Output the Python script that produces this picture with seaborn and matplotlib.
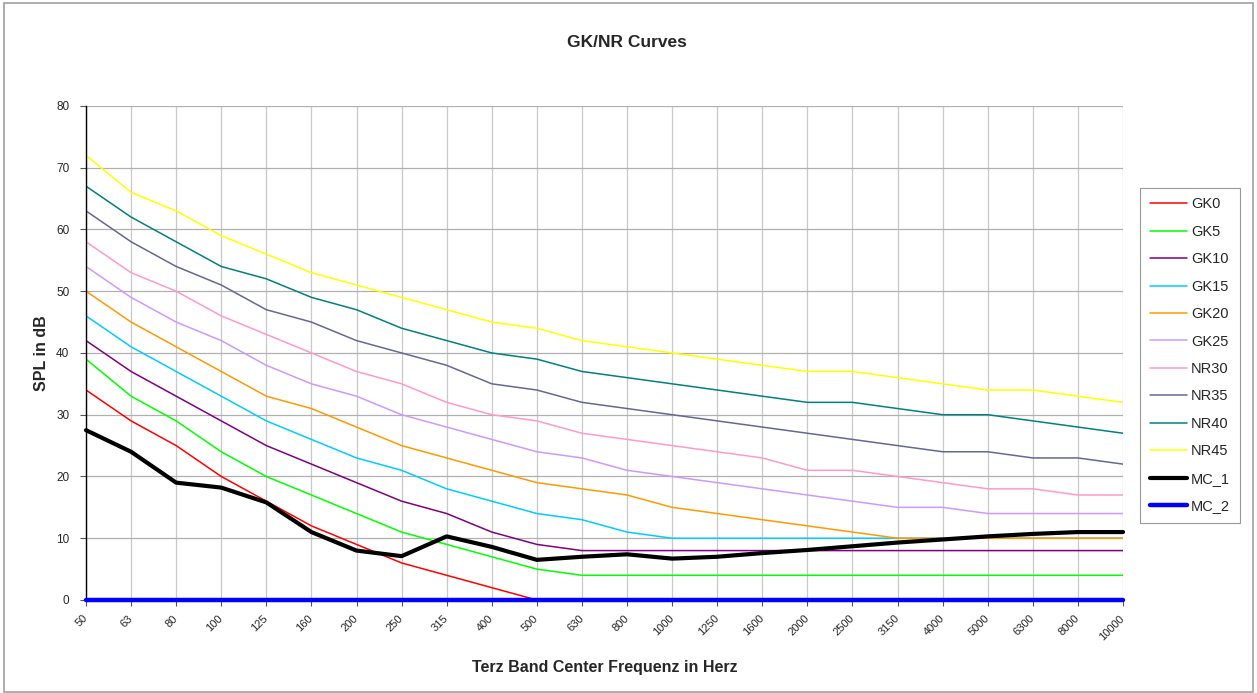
import numpy as np
import pandas as pd
import seaborn as sns
import matplotlib.pyplot as plt
from matplotlib.patches import Rectangle

freqs = ["50", "63", "80", "100", "125", "160", "200", "250", "315", "400",
         "500", "630", "800", "1000", "1250", "1600", "2000", "2500", "3150",
         "4000", "5000", "6300", "8000", "10000"]

nan = np.nan
gk0 = [34, 29, 25, 20, 16, 12, 9, 6, 4, 2, 0] + [nan] * 13
gk5 = [39, 33, 29, 24, 20, 17, 14, 11, 9, 7, 5, 4, 4, 4, 4, 4, 4, 4, 4, 4, 4, 4, 4, 4]
gk10 = [42, 37, 33, 29, 25, 22, 19, 16, 14, 11, 9, 8, 8, 8, 8, 8, 8, 8, 8, 8, 8, 8, 8, 8]
gk15 = [46, 41, 37, 33, 29, 26, 23, 21, 18, 16, 14, 13, 11, 10, 10, 10, 10, 10, 10, 10, 10, 10, 10, 10]
gk20 = [50, 45, 41, 37, 33, 31, 28, 25, 23, 21, 19, 18, 17, 15, 14, 13, 12, 11, 10, 10, 10, 10, 10, 10]
gk25 = [54, 49, 45, 42, 38, 35, 33, 30, 28, 26, 24, 23, 21, 20, 19, 18, 17, 16, 15, 15, 14, 14, 14, 14]
nr30 = [58, 53, 50, 46, 43, 40, 37, 35, 32, 30, 29, 27, 26, 25, 24, 23, 21, 21, 20, 19, 18, 18, 17, 17]
nr35 = [63, 58, 54, 51, 47, 45, 42, 40, 38, 35, 34, 32, 31, 30, 29, 28, 27, 26, 25, 24, 24, 23, 23, 22]
nr40 = [67, 62, 58, 54, 52, 49, 47, 44, 42, 40, 39, 37, 36, 35, 34, 33, 32, 32, 31, 30, 30, 29, 28, 27]
nr45 = [72, 66, 63, 59, 56, 53, 51, 49, 47, 45, 44, 42, 41, 40, 39, 38, 37, 37, 36, 35, 34, 34, 33, 32]
mc_1 = [27.5, 24, 19, 18.2, 15.8, 11, 8, 7.1, 10.3, 8.6, 6.5, 7.0, 7.4, 6.7, 7.0, 7.6,
        8.1, 8.7, 9.3, 9.8, 10.3, 10.7, 11.0, 11.0]
mc_2 = [0] * 24

series = {"GK0": gk0, "GK5": gk5, "GK10": gk10, "GK15": gk15, "GK20": gk20,
          "GK25": gk25, "NR30": nr30, "NR35": nr35, "NR40": nr40, "NR45": nr45,
          "MC_1": mc_1, "MC_2": mc_2}
colors = {"GK0": "#ff0000", "GK5": "#00ff00", "GK10": "#800080", "GK15": "#00ccff",
          "GK20": "#ff9900", "GK25": "#cc99ff", "NR30": "#ff99cc", "NR35": "#666699",
          "NR40": "#008080", "NR45": "#ffff00", "MC_1": "#000000", "MC_2": "#0000ff"}
widths = {k: 1.1 for k in series}
widths["MC_1"] = 3.0
widths["MC_2"] = 3.2

sns.set_style("white")
plt.rcParams["font.family"] = ["Liberation Sans", "DejaVu Sans"]

fig = plt.figure(figsize=(12.57, 6.93), dpi=100)
ax = fig.add_axes([0.0684, 0.1342, 0.825, 0.713])

x = np.arange(len(freqs))
for name, vals in series.items():
    df = pd.DataFrame({"x": x, "y": vals}).dropna()
    mc = name.startswith("MC")
    sns.lineplot(data=df, x="x", y="y", ax=ax, color=colors[name],
                 linewidth=widths[name], label=name, legend=False,
                 zorder=3 if mc else 2, clip_on=not mc)

ax.set_xlim(0, len(freqs) - 1)
ax.set_ylim(0, 80)
ax.set_xticks(x)
ax.set_xticklabels(freqs, rotation=45, fontsize=8)
ax.set_yticks(range(0, 81, 10))
ax.tick_params(axis="y", labelsize=8.5, length=4, width=0.8, color="#555555", pad=8, left=True)
ax.tick_params(axis="x", length=4, width=0.8, color="#555555", pad=8, bottom=True)
for lbl in ax.get_xticklabels():
    lbl.set_rotation_mode("anchor")
    lbl.set_ha("right")
    lbl.set_va("center")
ax.grid(True, axis="y", color="#b0b0b0", linewidth=0.9)
ax.grid(True, axis="x", color="#c8c8c8", linewidth=0.9)
ax.set_axisbelow(True)
for side in ["top", "right"]:
    ax.spines[side].set_visible(False)
ax.spines["left"].set_color("black")
ax.spines["left"].set_linewidth(1.0)
ax.spines["bottom"].set_color("#808080")

ax.set_xlabel("Terz Band Center Frequenz in Herz", fontsize=11.5, fontweight="bold", labelpad=13)
ax.set_ylabel("SPL in dB", fontsize=11.5, fontweight="bold", labelpad=5)
fig.text(0.499, 0.938, "GK/NR Curves", fontsize=12.5, fontweight="bold", ha="center", va="center")

handles, labels = ax.get_legend_handles_labels()
leg = fig.legend(handles, labels, loc="upper left", bbox_to_anchor=(0.907, 0.7287),
                 fontsize=10.5, frameon=True, fancybox=False, edgecolor="#808080",
                 handlelength=2.6, handletextpad=0.25, labelspacing=0.92,
                 borderpad=0.65, borderaxespad=0)
leg.get_frame().set_linewidth(0.8)

fig.patches.append(Rectangle((0.003, 0.002), 0.994, 0.993, transform=fig.transFigure,
                             fill=False, edgecolor="#a0a0a0", linewidth=1.2))

fig.savefig("out.png", dpi=100)
